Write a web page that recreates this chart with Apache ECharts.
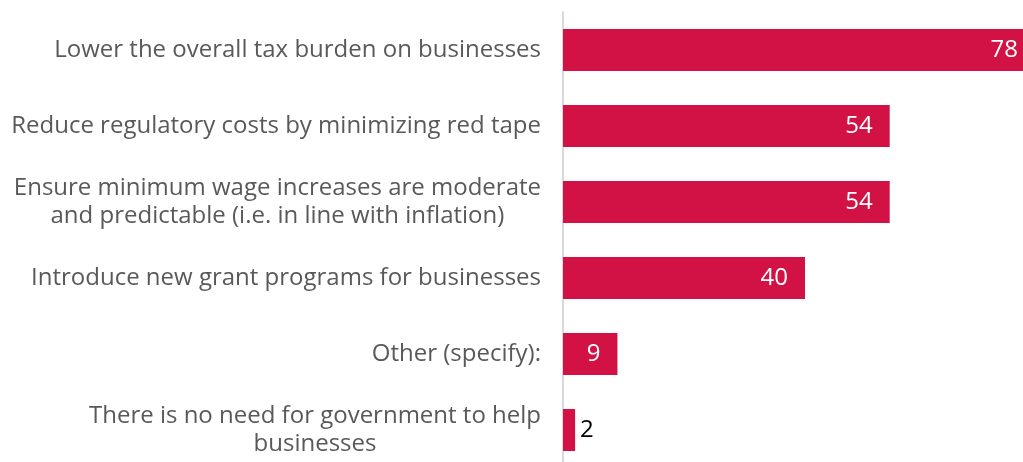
<!DOCTYPE html>
<html>
<head>
<meta charset="utf-8">
<script src="https://cdn.jsdelivr.net/npm/echarts@6/dist/echarts.min.js"></script>
<style>
  html, body { margin: 0; padding: 0; background: #ffffff; }
  #chart { width: 1023px; height: 462px; }
</style>
</head>
<body>
<div id="chart"></div>
<script>
// Survey responses: what government should do to help businesses
const categories = [
  'Lower the overall tax burden on businesses',
  'Reduce regulatory costs by minimizing red tape',
  'Ensure minimum wage increases are moderate\nand predictable (i.e. in line with inflation)',
  'Introduce new grant programs for businesses',
  'Other (specify):',
  'There is no need for government to help\nbusinesses'
];
const values = [78, 54, 54, 40, 9, 2];

const BAR_COLOR = '#d21245';
const TEXT_COLOR = '#595959';
const FONT = '"Open Sans", "Noto Sans", sans-serif';

const chart = echarts.init(document.getElementById('chart'));

// Small values get their label outside the bar in dark text
const seriesData = values.map(v => {
  if (v < 5) {
    return {
      value: v,
      label: { position: 'right', distance: 5, color: '#000000' }
    };
  }
  return v;
});

chart.setOption({
  animation: false,
  backgroundColor: '#ffffff',
  grid: {
    left: 563, top: 12, width: 484, height: 456,
    containLabel: false,
    outerBoundsMode: 'none'
  },
  xAxis: {
    type: 'value',
    min: 0,
    max: 80,
    show: false
  },
  yAxis: {
    type: 'category',
    inverse: true,
    data: categories,
    axisTick: { show: false },
    axisLine: { show: true, lineStyle: { color: '#d9d9d9', width: 2 } },
    splitLine: { show: false },
    axisLabel: {
      margin: 22,
      formatter: value => value.split('\n').map(line => '{c|' + line + '}').join('\n'),
      rich: {
        c: {
          align: 'center',
          color: TEXT_COLOR,
          fontSize: 24,
          fontFamily: FONT,
          lineHeight: 28
        }
      }
    }
  },
  series: [{
    type: 'bar',
    data: seriesData,
    barWidth: 42,
    itemStyle: { color: BAR_COLOR },
    label: {
      show: true,
      position: 'insideRight',
      distance: 17,
      color: '#ffffff',
      fontSize: 24,
      fontFamily: FONT
    }
  }]
});
</script>
</body>
</html>
